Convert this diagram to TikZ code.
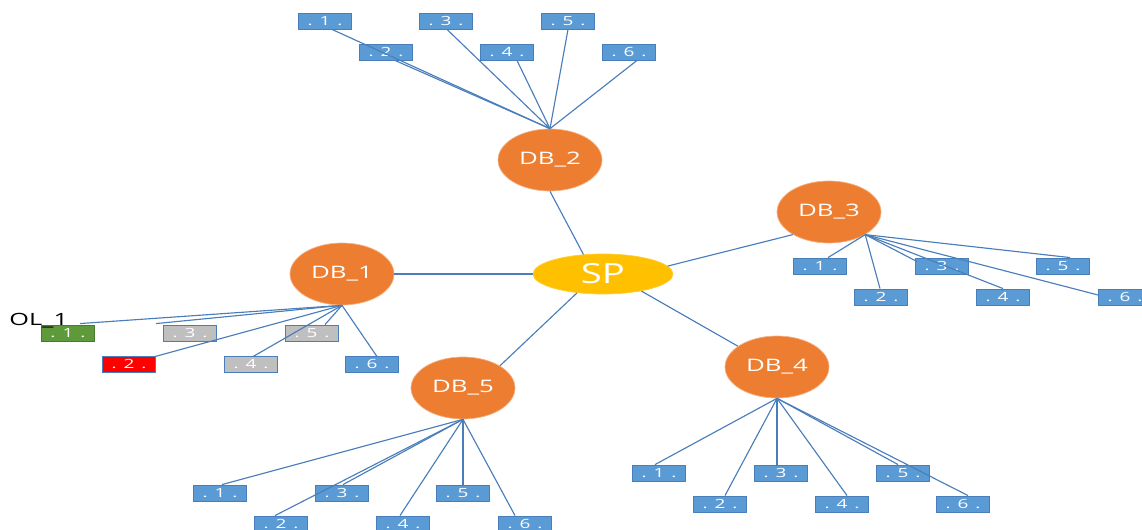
\documentclass[tikz,border=0pt]{standalone}
\usepackage{fontspec}
\setmainfont{Open Sans}[FakeStretch=1.5]
\newfontfamily\spfont{Open Sans}[FakeStretch=1.38]
\usetikzlibrary{shapes.geometric,calc}
\definecolor{bxfill}{HTML}{5B9BD5}
\definecolor{bxedge}{HTML}{4A7EBB}
\definecolor{orfill}{HTML}{ED7D31}
\definecolor{oredge}{HTML}{F4B183}
\definecolor{spfill}{HTML}{FFC000}
\definecolor{lncol}{HTML}{4A7EBB}
\definecolor{gyfill}{HTML}{BFBFBF}
\definecolor{grfill}{HTML}{5E9A39}
\definecolor{rdfill}{HTML}{FF0000}
\newcommand{\boxlbl}[1]{.\hspace{4pt}#1\hspace{4pt}.}
\begin{document}
\begin{tikzpicture}[x=0.02cm,y=-0.02cm,
  leaf/.style={draw=bxedge, fill=bxfill, line width=0.5pt, minimum width=1.06cm, minimum height=0.32cm, inner sep=0pt, text=white, font=\fontsize{7.2}{8}\selectfont},
  grayleaf/.style={leaf, fill=gyfill},
  greenleaf/.style={leaf, fill=grfill, draw=grfill!80!black},
  redleaf/.style={leaf, fill=rdfill},
  db/.style={ellipse, fill=orfill, draw=oredge, line width=0.4pt, minimum width=2.08cm, minimum height=1.24cm, inner sep=0pt, text=white, font=\fontsize{9.8}{11}\selectfont},
  hub/.style={ellipse, fill=spfill, draw=spfill!80!white, line width=0.4pt, minimum width=2.8cm, minimum height=0.8cm, inner sep=0pt, text=white, font=\spfont\fontsize{15.8}{18}\selectfont},
  ln/.style={draw=lncol, line width=0.65pt}]
\useasboundingbox (0,0) rectangle (1142,530);

\node[hub] (SP) at (603,274) {SP};
\node[db] (DB1) at (342,274) {DB\_1};
\node[db] (DB2) at (550,160) {DB\_2};
\node[db] (DB3) at (829,212) {DB\_3};
\node[db] (DB4) at (777,367) {DB\_4};
\node[db] (DB5) at (463,388) {DB\_5};

% DB_2 leaves
\node[leaf] (b21) at (325,21) {\boxlbl{1}};
\node[leaf] (b22) at (386,52) {\boxlbl{2}};
\node[leaf] (b23) at (446,21) {\boxlbl{3}};
\node[leaf] (b24) at (507,52) {\boxlbl{4}};
\node[leaf] (b25) at (568,21) {\boxlbl{5}};
\node[leaf] (b26) at (629,52) {\boxlbl{6}};

% DB_1 leaves
\node[greenleaf] (b11) at (68,333) {\boxlbl{1}};
\node[redleaf] (b12) at (129,364) {\boxlbl{2}};
\node[grayleaf] (b13) at (190,333) {\boxlbl{3}};
\node[grayleaf] (b14) at (251,364) {\boxlbl{4}};
\node[grayleaf] (b15) at (312,333) {\boxlbl{5}};
\node[leaf] (b16) at (372,364) {\boxlbl{6}};
\node[anchor=west, inner sep=0pt, font=\fontsize{9.6}{11}\selectfont] (OL) at (9,321) {OL\_1};

% DB_3 leaves
\node[leaf] (b31) at (820,266) {\boxlbl{1}};
\node[leaf] (b32) at (881,297) {\boxlbl{2}};
\node[leaf] (b33) at (942,266) {\boxlbl{3}};
\node[leaf] (b34) at (1003,297) {\boxlbl{4}};
\node[leaf] (b35) at (1063,266) {\boxlbl{5}};
\node[leaf] (b36) at (1125,297) {\boxlbl{6}};

% DB_4 leaves
\node[leaf] (b41) at (659,473) {\boxlbl{1}};
\node[leaf] (b42) at (720,504) {\boxlbl{2}};
\node[leaf] (b43) at (781,473) {\boxlbl{3}};
\node[leaf] (b44) at (842,504) {\boxlbl{4}};
\node[leaf] (b45) at (903,473) {\boxlbl{5}};
\node[leaf] (b46) at (963,504) {\boxlbl{6}};

% DB_5 leaves
\node[leaf] (b51) at (220,493) {\boxlbl{1}};
\node[leaf] (b52) at (281,524) {\boxlbl{2}};
\node[leaf] (b53) at (342,493) {\boxlbl{3}};
\node[leaf] (b54) at (403,524) {\boxlbl{4}};
\node[leaf] (b55) at (463,493) {\boxlbl{5}};
\node[leaf] (b56) at (525,524) {\boxlbl{6}};

% SP connectors
\draw[ln] (DB1.east) -- (SP.west);
\draw[ln] (DB2.south) -- (SP.135);
\draw[ln] (SP.7) -- (DB3.212);
\draw[ln] (SP.-24) -- (DB4.152);
\draw[ln] (SP.216) -- (DB5.31);

% DB_2 connectors
\draw[ln] (DB2.north) -- ($(b21.south)+(7,0)$);
\draw[ln] (DB2.north) -- ($(b22.south)+(9,0)$);
\draw[ln] (DB2.north) -- ($(b23.south)+(1,0)$);
\draw[ln] (DB2.north) -- ($(b24.south)+(10,0)$);
\draw[ln] (DB2.north) -- (b25.south);
\draw[ln] (DB2.north) -- ($(b26.south)+(8,0)$);

% DB_1 connectors
\draw[ln] (DB1.south) -- ($(b11.north)+(12,-1)$);
\draw[ln] (DB1.south) -- ($(b12.north east)+(-1,1)$);
\draw[ln] (DB1.south) -- ($(b13.north west)+(-7,-1)$);
\draw[ln] (DB1.south) -- ($(b14.north)+(2,1)$);
\draw[ln] (DB1.south) -- ($(b15.north)+(13,0)$);
\draw[ln] (DB1.south) -- ($(b16.north)+(5,1)$);

% DB_3 connectors
\draw[ln] (DB3.-32) -- ($(b31.north)+(8,0)$);
\draw[ln] (DB3.-32) -- ($(b32.north)+(-1,0)$);
\draw[ln] (DB3.-32) -- ($(b33.north west)+(2,4)$);
\draw[ln] (DB3.-32) -- (b34.north);
\draw[ln] (DB3.-32) -- ($(b35.north)+(7,0)$);
\draw[ln] (DB3.-32) -- ($(b36.west)+(0,-2)$);

% DB_4 connectors
\draw[ln] (DB4.south) -- ($(b41.north)+(-4,0)$);
\draw[ln] (DB4.south) -- ($(b42.north)+(5,0)$);
\draw[ln] (DB4.south) -- ($(b43.north)+(-4,0)$);
\draw[ln] (DB4.south) -- ($(b44.north)+(5,0)$);
\draw[ln] (DB4.south) -- ($(b45.north)+(-5,0)$);
\draw[ln] (DB4.south) -- ($(b46.north)+(5,0)$);

% DB_5 connectors
\draw[ln] (DB5.south) -- ($(b51.north)+(2,0)$);
\draw[ln] (DB5.south) -- ($(b52.north)+(-6,0)$);
\draw[ln] (DB5.south) -- ($(b53.north)+(1,0)$);
\draw[ln] (DB5.south) -- ($(b54.north)+(-3,0)$);
\draw[ln] (DB5.south) -- (b55.north);
\draw[ln] (DB5.south) -- ($(b56.north)+(-10,0)$);
\end{tikzpicture}
\end{document}
